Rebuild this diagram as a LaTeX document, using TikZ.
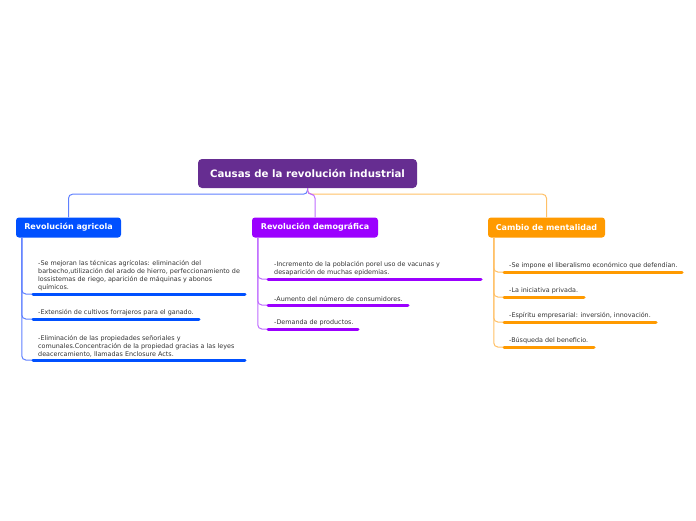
\documentclass[tikz,border=0pt]{standalone}
\usepackage{fontspec}
\setmainfont{DejaVu Sans}
\usetikzlibrary{calc}
\definecolor{rootpurple}{HTML}{662D91}
\definecolor{agriblue}{HTML}{0050FF}
\definecolor{demoviolet}{HTML}{9B00FF}
\definecolor{mentorange}{HTML}{FF9A00}
\definecolor{agriline}{HTML}{5F80FF}
\definecolor{demoline}{HTML}{BF6BFF}
\definecolor{mentline}{HTML}{FFC066}
\definecolor{itemgray}{HTML}{333333}

\begin{document}
\begin{tikzpicture}[x=1pt, y=-1pt,
      root/.style={fill=rootpurple, rounded corners=4pt, text=white, inner sep=0pt,
        minimum width=219pt, minimum height=29pt, font=\bfseries\fontsize{10.2}{12}\selectfont},
      branch/.style={fill=#1, rounded corners=3pt, text=white, inner sep=0pt,
        minimum height=20pt, font=\bfseries\fontsize{8}{9}\selectfont},
      item/.style={anchor=south west, align=left, inner sep=0pt, text=itemgray,
        font=\fontsize{6.4}{7.9}\selectfont},
      bar/.style={line width=3pt, line cap=round, #1},
      link/.style={line width=1pt, rounded corners=4pt, #1},
    ]
    \useasboundingbox (0,0) rectangle (696,520);
    % --- central topic and the three causes ---------------------------
    \node[root] (root) at (307.5,173.5) {Causas de la revolución industrial};
    \node[branch=agriblue, minimum width=105pt] (agri) at (68.5,227.5) {Revolución agricola};
    \node[branch=demoviolet, minimum width=126pt] (demo) at (315,227.5) {Revolución demográfica};
    \node[branch=mentorange, minimum width=117pt] (ment) at (546.5,227.5) {Cambio de mentalidad};
    % --- links from the centre ----------------------------------------
    \draw[link=agriline] (root.south) -- ++(0,6) -| (agri.north);
    \draw[link=mentline] (root.south) -- ++(0,6) -| (ment.north);
    \draw[link=demoline] (root.south) -- ++(0,6) -| (demo.north);
    % --- bars under the items -----------------------------------------
    \coordinate (a1) at (33,294);  \coordinate (a1e) at (245,294);
    \coordinate (a2) at (33,319);  \coordinate (a2e) at (199,319);
    \coordinate (a3) at (33,360);  \coordinate (a3e) at (245,360);
    \coordinate (d1) at (268,279); \coordinate (d1e) at (481,279);
    \coordinate (d2) at (268,305); \coordinate (d2e) at (408,305);
    \coordinate (d3) at (268,329); \coordinate (d3e) at (358,329);
    \coordinate (m1) at (504,272); \coordinate (m1e) at (682,272);
    \coordinate (m2) at (504,297); \coordinate (m2e) at (584,297);
    \coordinate (m3) at (504,322); \coordinate (m3e) at (656,322);
    \coordinate (m4) at (504,347); \coordinate (m4e) at (594,347);
    \foreach \b in {a1,a2,a3} {
      \draw[link=agriline] ([xshift=6pt]agri.south west) |- (\b);
      \draw[bar=agriblue] (\b) -- (\b e);
    }
    \foreach \b in {d1,d2,d3} {
      \draw[link=demoline] ([xshift=6pt]demo.south west) |- (\b);
      \draw[bar=demoviolet] (\b) -- (\b e);
    }
    \foreach \b in {m1,m2,m3,m4} {
      \draw[link=mentline] ([xshift=6pt]ment.south west) |- (\b);
      \draw[bar=mentorange] (\b) -- (\b e);
    }
    % --- item texts ----------------------------------------------------
    \node[item] (a1t) at ([shift={(5,-3)}]a1) {-Se mejoran las técnicas agrícolas:  eliminación del\\
      barbecho,utilización del arado de hierro, perfeccionamiento de\\
      lossistemas de riego, aparición de máquinas y abonos\\ químicos.};
    \node[item] (a2t) at ([shift={(5,-3)}]a2) {-Extensión de cultivos forrajeros para el ganado.};
    \node[item] (a3t) at ([shift={(5,-3)}]a3) {-Eliminación de las propiedades señoriales y\\
      comunales.Concentración de la propiedad gracias a las leyes\\
      deacercamiento, llamadas Enclosure Acts.};
    \node[item] (d1t) at ([shift={(6,-3)}]d1) {-Incremento de la población porel uso de vacunas y\\
      desaparición de muchas epidemias.};
    \node[item] (d2t) at ([shift={(6,-3)}]d2) {-Aumento del número de consumidores.};
    \node[item] (d3t) at ([shift={(6,-3)}]d3) {-Demanda de productos.};
    \node[item] (m1t) at ([shift={(5,-3)}]m1) {-Se impone el liberalismo económico que defendían.};
    \node[item] (m2t) at ([shift={(5,-3)}]m2) {-La iniciativa privada.};
    \node[item] (m3t) at ([shift={(5,-3)}]m3) {-Espíritu empresarial: inversión, innovación.};
    \node[item] (m4t) at ([shift={(5,-3)}]m4) {-Búsqueda del beneficio.};
  \end{tikzpicture}
\end{document}
